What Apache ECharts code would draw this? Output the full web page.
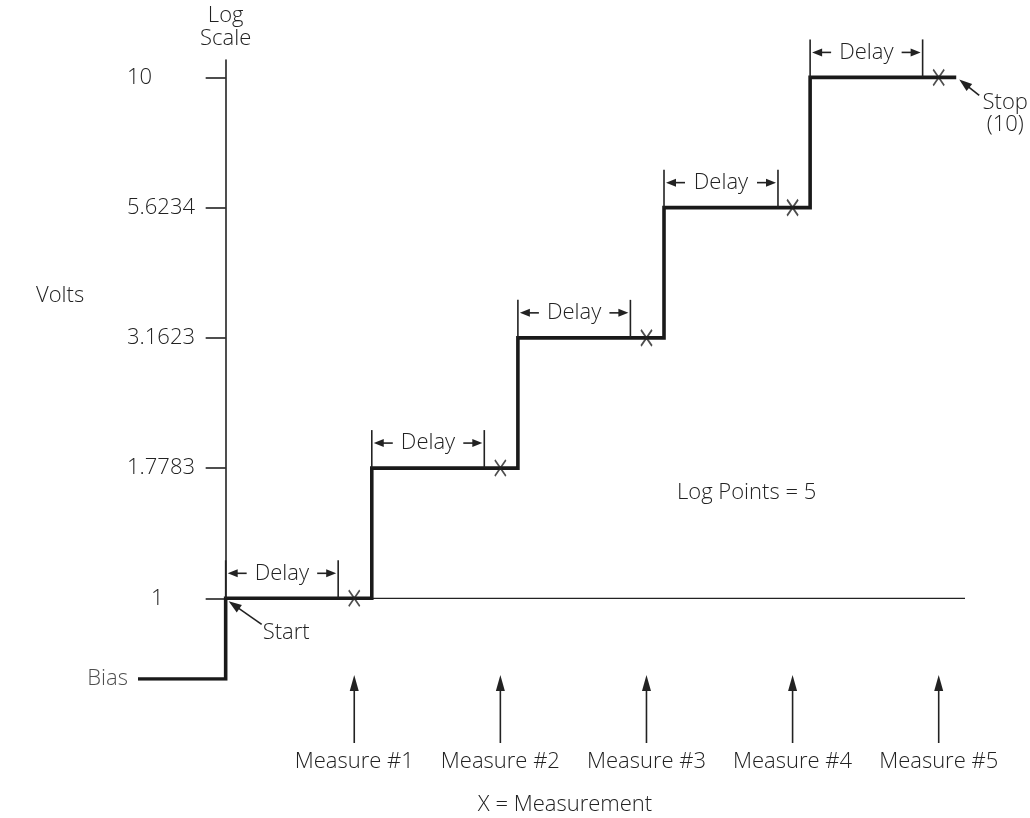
<!DOCTYPE html>
<html><head><meta charset="utf-8">
<script src="https://cdn.jsdelivr.net/npm/echarts@6/dist/echarts.min.js"></script>
<style>html,body{margin:0;padding:0;background:#fff}#c{width:1030px;height:818px}</style>
</head><body><div id="c"></div>
<script>
// ---- data ----
const levelValues = [1, 1.7783, 3.1623, 5.6234, 10];
const levelLabels = ['1', '1.7783', '3.1623', '5.6234', '10'];
const biasValue = 0.7;
const axisTopValue = 10.8;
const biasStartTime = -0.6;
const stepTimes = [0, 1, 2, 3, 4];
const delayEndTimes = [0.77, 1.77, 2.77, 3.78, 4.77];
const measureTimes = [0.88, 1.88, 2.88, 3.88, 4.88];
const measureLabels = ['Measure #1', 'Measure #2', 'Measure #3', 'Measure #4', 'Measure #5'];
const stopTime = 5.0;
const baselineEndTime = 5.06;

// ---- helpers ----
const L = v => Math.log10(v);
const INK = '#222';
const FF = "'Open Sans', 'Liberation Sans', sans-serif";
const FW = 300;
const FS = 22;
const FONT = FW + ' ' + FS + 'px ' + FF;

function arrow(x1, y1, x2, y2, len, w, lw) {
  const dx = x2 - x1, dy = y2 - y1, d = Math.hypot(dx, dy);
  const ux = dx / d, uy = dy / d;
  const bx = x2 - ux * len, by = y2 - uy * len;
  const px = -uy * w / 2, py = ux * w / 2;
  return [
    {type: 'line', shape: {x1: x1, y1: y1, x2: bx + ux * 2, y2: by + uy * 2}, style: {stroke: INK, lineWidth: lw || 1.6}},
    {type: 'polygon', shape: {points: [[x2, y2], [bx + px, by + py], [bx - px, by - py]]}, style: {fill: INK}}
  ];
}

// step path built from the arrays
const stepData = [[biasStartTime, L(biasValue)], [stepTimes[0], L(biasValue)]];
for (let i = 0; i < levelValues.length; i++) {
  stepData.push([stepTimes[i], L(levelValues[i])]);
  stepData.push([i < levelValues.length - 1 ? stepTimes[i + 1] : stopTime, L(levelValues[i])]);
}
const measurePts = measureTimes.map((t, i) => [t, L(levelValues[i])]);
const delayData = stepTimes.map((t, i) => [t, delayEndTimes[i], L(levelValues[i])]);
const logTicks = levelValues.map(L);

const chart = echarts.init(document.getElementById('c'), null, {renderer: 'canvas'});
chart.setOption({
  animation: false,
  backgroundColor: '#fff',
  grid: {left: 138, right: 65, top: 60, bottom: 139},
  xAxis: {
    type: 'value', min: biasStartTime, max: baselineEndTime,
    axisLine: {show: false, onZero: false}, axisTick: {show: false}, splitLine: {show: false},
    axisLabel: {
      customValues: measureTimes, margin: 72,
      formatter: v => { let k = 0; measureTimes.forEach((t, i) => { if (Math.abs(t - v) < Math.abs(measureTimes[k] - v)) k = i; }); return measureLabels[k]; },
      color: INK, fontFamily: FF, fontWeight: FW, fontSize: FS
    }
  },
  yAxis: {
    type: 'value', min: L(biasValue), max: L(axisTopValue),
    name: 'Log\nScale', nameLocation: 'end', nameGap: 10,
    nameTextStyle: {color: INK, fontFamily: FF, fontWeight: FW, fontSize: FS, lineHeight: 23, align: 'center', verticalAlign: 'bottom'},
    axisLine: {show: true, onZero: true, lineStyle: {color: INK, width: 1.6}},
    axisTick: {show: true, customValues: logTicks, length: 20, lineStyle: {color: INK, width: 1.6}},
    splitLine: {show: false},
    axisLabel: {
      customValues: logTicks, margin: 11, align: 'left',
      formatter: v => { let k = 0; logTicks.forEach((t, i) => { if (Math.abs(t - v) < Math.abs(logTicks[k] - v)) k = i; }); return k === 0 ? '{p|' + levelLabels[k] + '}' : levelLabels[k]; },
      rich: {p: {padding: [0, 0, 0, 24], color: INK, fontFamily: FF, fontWeight: FW, fontSize: FS}},
      color: INK, fontFamily: FF, fontWeight: FW, fontSize: FS
    }
  },
  graphic: [
    {type: 'text', x: 36, y: 296, style: {text: 'Volts', fill: INK, font: FONT, align: 'left', verticalAlign: 'middle'}},
    {type: 'text', x: 677, y: 493, style: {text: 'Log Points = 5', fill: INK, font: FONT, align: 'left', verticalAlign: 'middle'}},
    {type: 'text', x: 565, y: 805, style: {text: 'X = Measurement', fill: INK, font: FONT, align: 'center', verticalAlign: 'middle'}}
  ],
  series: [
    {
      type: 'line', data: [[0, L(1)], [baselineEndTime, L(1)]], symbol: 'none', z: 2,
      lineStyle: {color: INK, width: 1.3}, silent: true
    },
    {
      type: 'line', data: stepData, symbol: 'none', z: 3,
      lineStyle: {color: '#1a1a1a', width: 3.6, join: 'miter', cap: 'butt'}, silent: true
    },
    {
      type: 'scatter', data: measurePts, z: 4,
      symbol: 'path://M0,0L10,14M10,0L0,14', symbolSize: [11, 16],
      itemStyle: {color: 'none', borderColor: INK, borderWidth: 1.8}, silent: true
    },
    {
      type: 'scatter', data: [[biasStartTime, L(biasValue)]], symbolSize: 0,
      label: {show: true, position: 'left', distance: 10, formatter: 'Bias', color: INK, fontFamily: FF, fontWeight: FW, fontSize: FS}
    },
    {
      type: 'custom', data: delayData, clip: false, z: 5, silent: true,
      renderItem: (params, api) => {
        const p0 = api.coord([api.value(0), api.value(2)]);
        const p1 = api.coord([api.value(1), api.value(2)]);
        const ay = p0[1] - 25;
        const ch = [
          {type: 'line', shape: {x1: p0[0], y1: p0[1] - 38, x2: p0[0], y2: p0[1]}, style: {stroke: INK, lineWidth: 1.6}},
          {type: 'line', shape: {x1: p1[0], y1: p1[1] - 38, x2: p1[0], y2: p1[1]}, style: {stroke: INK, lineWidth: 1.6}}
        ].concat(arrow(p0[0] + 21, ay, p0[0] + 2, ay, 10, 8))
         .concat(arrow(p1[0] - 21, ay, p1[0] - 2, ay, 10, 8));
        ch.push({type: 'text', x: (p0[0] + p1[0]) / 2, y: ay, style: {text: 'Delay', fill: INK, font: FONT, align: 'center', verticalAlign: 'middle'}});
        return {type: 'group', children: ch};
      }
    },
    {
      type: 'custom', data: measureTimes.map(t => [t, L(biasValue)]), clip: false, z: 5, silent: true,
      renderItem: (params, api) => {
        const p = api.coord([api.value(0), api.value(1)]);
        return {type: 'group', children: arrow(p[0], p[1] + 64, p[0], p[1] - 4, 16, 9, 1.6)};
      }
    },
    {
      type: 'custom', data: [[0, L(1), 0], [stopTime, L(10), 1]], clip: false, z: 5, silent: true,
      renderItem: (params, api) => {
        const p = api.coord([api.value(0), api.value(1)]);
        if (api.value(2) === 0) {
          return {type: 'group', children: arrow(p[0] + 36, p[1] + 26, p[0] + 3, p[1] + 3, 13, 9, 1.6).concat([
            {type: 'text', x: p[0] + 37, y: p[1] + 34, style: {text: 'Start', fill: INK, font: FONT, align: 'left', verticalAlign: 'middle'}}
          ])};
        }
        return {type: 'group', children: arrow(p[0] + 23, p[1] + 18, p[0] + 3, p[1] + 2, 13, 9, 1.6).concat([
          {type: 'text', x: p[0] + 49, y: p[1] + 36, style: {text: 'Stop\n(10)', fill: INK, font: FONT, align: 'center', verticalAlign: 'middle', lineHeight: 22}}
        ])};
      }
    }
  ]
});
</script></body></html>
